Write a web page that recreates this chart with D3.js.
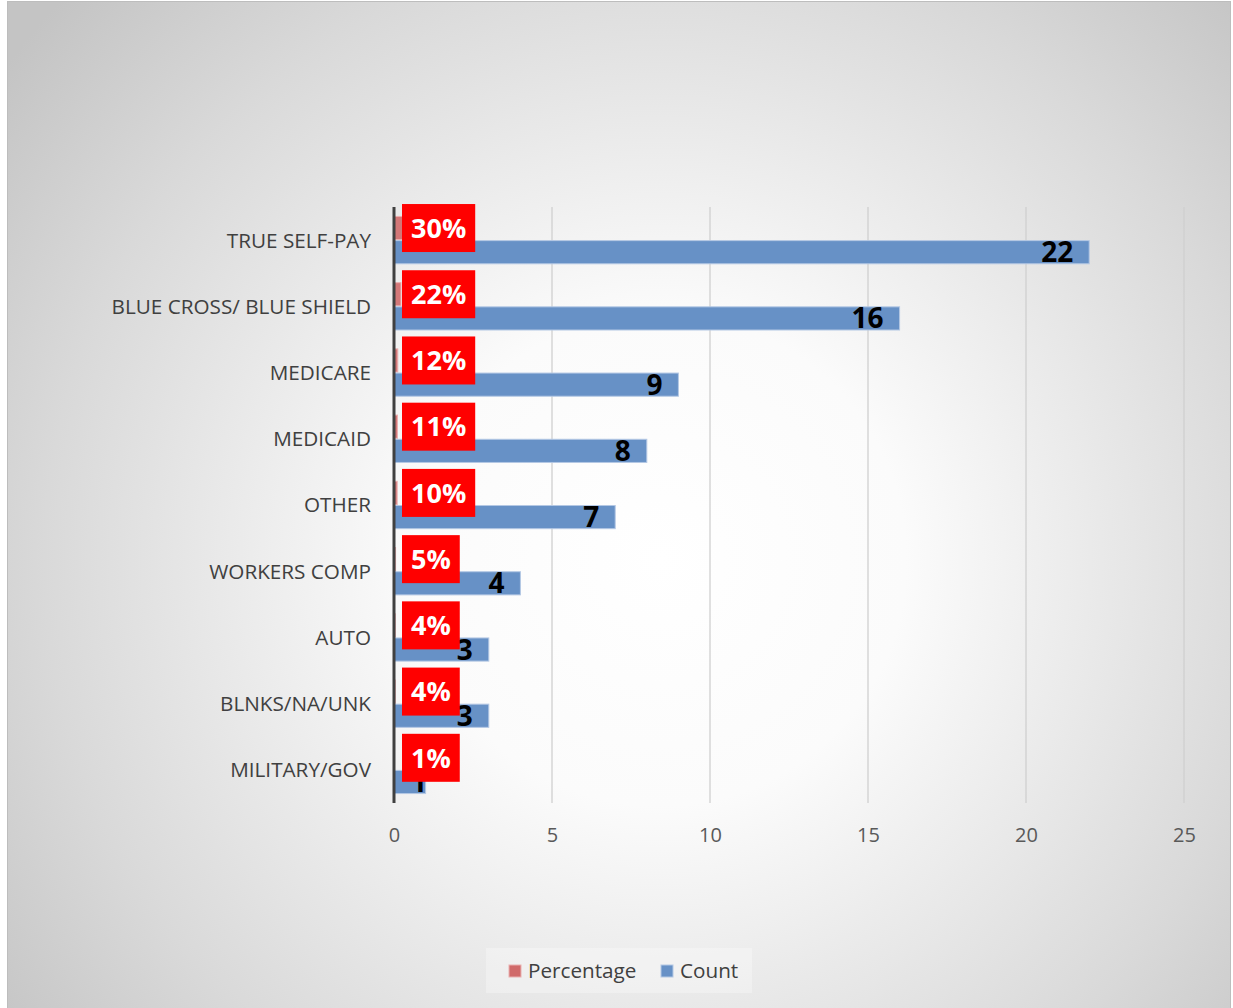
<!DOCTYPE html>
<html>
<head>
<meta charset="utf-8">
<script src="https://cdn.jsdelivr.net/npm/d3@7"></script>
<style>
  html, body { margin: 0; padding: 0; background: #ffffff; }
  svg { display: block; }
</style>
</head>
<body>
<svg id="chart" width="1233" height="1008"></svg>
<script>
// Payer mix: count of accounts and share of total per payer category
const categories = ["TRUE SELF-PAY", "BLUE CROSS/ BLUE SHIELD", "MEDICARE", "MEDICAID", "OTHER",
                    "WORKERS COMP", "AUTO", "BLNKS/NA/UNK", "MILITARY/GOV"];
const counts = [22, 16, 9, 8, 7, 4, 3, 3, 1];
const percentages = [0.30, 0.22, 0.12, 0.11, 0.10, 0.05, 0.04, 0.04, 0.01];
const seriesNames = ["Percentage", "Count"];
const xTicks = [0, 5, 10, 15, 20, 25];

const colors = { Percentage: "#d06a6a", Count: "#6791c6" };

const rows = categories.map((c, i) => ({ cat: c, Percentage: percentages[i], Count: counts[i] }));

const svg = d3.select("#chart");

// Background with soft radial shading
const defs = svg.append("defs");
const grad = defs.append("radialGradient")
  .attr("id", "bg").attr("gradientUnits", "userSpaceOnUse")
  .attr("cx", 660).attr("cy", 560).attr("r", 820);
grad.append("stop").attr("offset", 0).attr("stop-color", "#ffffff");
grad.append("stop").attr("offset", 0.3).attr("stop-color", "#fbfbfb");
grad.append("stop").attr("offset", 0.75).attr("stop-color", "#d9d9d9");
grad.append("stop").attr("offset", 1).attr("stop-color", "#c4c4c4");

svg.append("rect")
  .attr("x", 7.5).attr("y", 1.5).attr("width", 1223).attr("height", 1010)
  .attr("fill", "url(#bg)").attr("stroke", "#bdbdbd").attr("stroke-width", 1);

// Scales
const x = d3.scaleLinear().domain([0, 25]).range([394, 1184]);
const y = d3.scaleBand().domain(categories).range([207, 803]).paddingInner(0.27).paddingOuter(0.135);
const ySub = d3.scaleBand().domain(seriesNames).range([0, y.bandwidth()]).padding(0);

const fontFamily = "'Open Sans', 'Liberation Sans', sans-serif";

// Vertical gridlines
svg.append("g").selectAll("line")
  .data(xTicks.filter(t => t > 0))
  .join("line")
  .attr("x1", d => x(d)).attr("x2", d => x(d))
  .attr("y1", 207).attr("y2", 803)
  .attr("stroke", "#cfcfcf").attr("stroke-width", 1.3);

// X axis tick labels
const xAxis = d3.axisBottom(x).tickValues(xTicks).tickSize(0).tickPadding(0);
const gx = svg.append("g").attr("transform", "translate(0,828)").call(xAxis);
gx.select(".domain").remove();
gx.selectAll("text")
  .attr("font-family", fontFamily).attr("font-size", 20).attr("fill", "#595959")
  .attr("dy", "0.71em");

// Category labels
const yAxis = d3.axisLeft(y).tickSize(0).tickPadding(0);
const gy = svg.append("g").attr("transform", "translate(371,0)").call(yAxis);
gy.select(".domain").remove();
gy.selectAll("text")
  .attr("font-family", fontFamily).attr("font-size", 20.7).attr("fill", "#404040")
  .attr("dy", "0.36em");

// Bars
const groups = svg.append("g").selectAll("g")
  .data(rows).join("g")
  .attr("transform", d => `translate(0,${y(d.cat)})`);

groups.selectAll("rect")
  .data(d => seriesNames.map(s => ({ s, v: d[s] })))
  .join("rect")
  .attr("x", x(0))
  .attr("y", d => ySub(d.s) + 0.5)
  .attr("width", d => Math.max(0, x(d.v) - x(0)))
  .attr("height", ySub.bandwidth() - 1)
  .attr("fill", d => colors[d.s])
  .attr("fill-opacity", d => d.s === "Percentage" ? 0.9 : 1)
  .attr("stroke", d => d.s === "Percentage" ? "#eab0b0" : "#b4c8e4")
  .attr("stroke-width", 1);

// Count labels, inside the bar end (kept clear of the axis on short bars)
groups.append("text")
  .attr("y", ySub("Count") + ySub.bandwidth() / 2)
  .attr("dy", "0.36em")
  .attr("text-anchor", "end")
  .attr("font-family", fontFamily).attr("font-weight", 700).attr("font-size", 28)
  .attr("fill", "#000000")
  .text(d => d.Count)
  .attr("x", function (d) {
    const w = this.getComputedTextLength();
    return Math.max(x(d.Count) - 16, x(0) + 17 + w);
  });

// Percentage labels in red boxes
const pctFmt = d3.format(".0%");
const pctLabels = groups.append("g")
  .attr("transform", d => `translate(${x(0) + 8},${ySub("Percentage") + ySub.bandwidth() / 2})`);
pctLabels.append("text")
  .attr("x", 9)
  .attr("dy", "0.36em")
  .attr("font-family", fontFamily).attr("font-weight", 700).attr("font-size", 27)
  .attr("fill", "#ffffff")
  .text(d => pctFmt(d.Percentage));
pctLabels.each(function () {
  const g = d3.select(this);
  const t = g.select("text");
  const w = t.node().getComputedTextLength();
  g.insert("rect", "text")
    .attr("x", 0).attr("y", -24)
    .attr("width", w + 18).attr("height", 48)
    .attr("fill", "#ff0000");
});

// Value axis line at zero
svg.append("line")
  .attr("x1", x(0)).attr("x2", x(0))
  .attr("y1", 207).attr("y2", 803)
  .attr("stroke", "#404040").attr("stroke-width", 3);

// Legend
const legend = svg.append("g");
legend.append("rect")
  .attr("x", 486).attr("y", 948).attr("width", 266).attr("height", 45)
  .attr("fill", "#ffffff").attr("fill-opacity", 0.3);
const legendItems = [
  { s: "Percentage", x: 509 },
  { s: "Count", x: 661 }
];
legendItems.forEach(it => {
  legend.append("rect")
    .attr("x", it.x).attr("y", 965).attr("width", 12).attr("height", 12)
    .attr("fill", colors[it.s])
    .attr("stroke", it.s === "Percentage" ? "#eab0b0" : "#b4c8e4").attr("stroke-width", 1);
  legend.append("text")
    .attr("x", it.x + 19).attr("y", 971).attr("dy", "0.36em")
    .attr("font-family", fontFamily).attr("font-size", 20.7).attr("fill", "#404040")
    .text(it.s);
});
</script>
</body>
</html>
